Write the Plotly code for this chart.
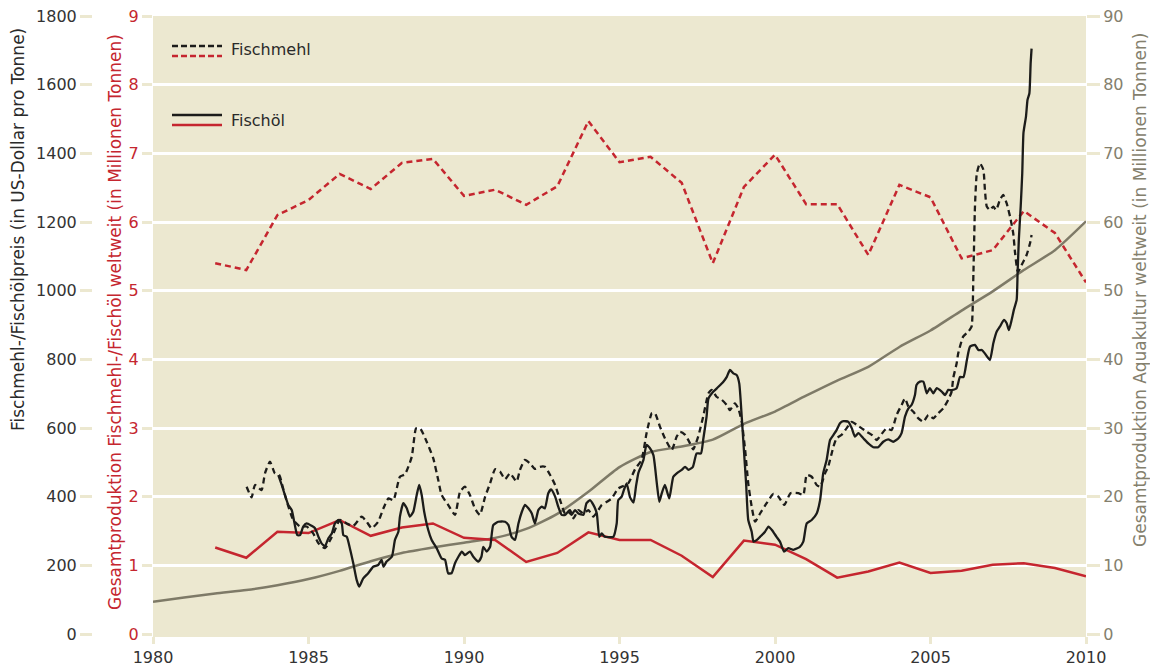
import plotly.graph_objects as go

# --- Aquaculture production worldwide (million tonnes), annual ---
aqua_years = list(range(1980, 2011))
aqua_mt = [4.7, 5.3, 5.9, 6.4, 7.1, 8.0, 9.2, 10.6, 11.8, 12.6, 13.3, 14.0, 15.3, 17.5,
           20.7, 24.3, 26.5, 27.3, 28.3, 30.6, 32.4, 34.7, 36.9, 38.9, 41.8, 44.2, 47.1,
           49.9, 53.0, 55.9, 60.1]

# --- Fishmeal / fish oil production worldwide (million tonnes), annual ---
prod_years = list(range(1982, 2011))
fishmeal_mt = [5.40, 5.30, 6.10, 6.32, 6.70, 6.48, 6.86, 6.92, 6.38, 6.47, 6.25, 6.52, 7.47,
               6.87, 6.95, 6.57, 5.40, 6.51, 6.98, 6.26, 6.26, 5.52, 6.54, 6.36, 5.47, 5.59,
               6.16, 5.84, 5.12]
fishoil_mt = [1.26, 1.11, 1.49, 1.47, 1.66, 1.43, 1.55, 1.61, 1.40, 1.37, 1.05, 1.18, 1.48,
              1.37, 1.37, 1.14, 0.83, 1.36, 1.30, 1.09, 0.82, 0.91, 1.04, 0.89, 0.92, 1.01,
              1.03, 0.96, 0.84]

# --- Fishmeal price (USD per tonne) ---
fishmeal_t = [1983.01, 1983.17, 1983.28, 1983.49, 1983.60, 1983.76, 1983.92, 1984.06, 1984.17,
              1984.32, 1984.51, 1984.73, 1984.94, 1985.15, 1985.32, 1985.53, 1985.75, 1985.85,
              1986.01, 1986.23, 1986.44, 1986.71, 1986.87, 1987.03, 1987.24, 1987.41, 1987.57,
              1987.73, 1987.94, 1988.10, 1988.32, 1988.46, 1988.59, 1988.80, 1989.01, 1989.17,
              1989.28, 1989.49, 1989.71, 1989.87, 1990.03, 1990.19, 1990.35, 1990.51, 1990.68,
              1990.84, 1991.00, 1991.16, 1991.32, 1991.48, 1991.69, 1991.80, 1991.96, 1992.12,
              1992.28, 1992.44, 1992.60, 1992.77, 1992.93, 1993.09, 1993.25, 1993.41, 1993.52,
              1993.68, 1993.84, 1994.00, 1994.16, 1994.32, 1994.43, 1994.59, 1994.75, 1994.96,
              1995.12, 1995.29, 1995.50, 1995.71, 1995.87, 1996.04, 1996.14, 1996.30, 1996.46,
              1996.68, 1996.84, 1996.95, 1997.11, 1997.27, 1997.37, 1997.53, 1997.69, 1997.86,
              1997.96, 1998.12, 1998.29, 1998.45, 1998.55, 1998.71, 1998.82, 1998.93, 1999.04,
              1999.14, 1999.25, 1999.36, 1999.52, 1999.73, 1999.95, 2000.11, 2000.30, 2000.50,
              2000.75, 2000.91, 2001.02, 2001.18, 2001.34, 2001.45, 2001.61, 2001.71, 2001.88,
              2001.98, 2002.14, 2002.30, 2002.47, 2002.63, 2002.79, 2002.95, 2003.11, 2003.27,
              2003.43, 2003.59, 2003.75, 2003.91, 2004.07, 2004.18, 2004.29, 2004.45, 2004.61,
              2004.77, 2004.93, 2005.09, 2005.25, 2005.41, 2005.57, 2005.68, 2005.73, 2005.84,
              2005.89, 2006.05, 2006.22, 2006.32, 2006.38, 2006.43, 2006.49, 2006.59, 2006.70,
              2006.75, 2006.81, 2006.91, 2007.02, 2007.11, 2007.23, 2007.34, 2007.45, 2007.56,
              2007.66, 2007.72, 2007.79, 2007.82, 2007.93, 2008.09, 2008.20, 2008.25]
fishmeal_usd = [429, 398, 434, 419, 468, 502, 468, 463, 429,
                381, 332, 313, 313, 293, 264, 250, 283, 303,
                332, 322, 315, 342, 327, 308, 327, 366, 395,
                390, 458, 465, 516, 599, 599, 560, 512, 449,
                405, 376, 347, 414, 429, 405, 366, 347, 400,
                439, 480, 473, 451, 468, 444, 478, 507, 497,
                481, 487, 487, 463, 434, 390, 351, 361, 337,
                361, 351, 361, 342, 361, 376, 385, 395, 424,
                431, 440, 480, 507, 585, 643, 643, 604, 570,
                536, 575, 589, 580, 555, 538, 575, 633, 701,
                711, 691, 682, 667, 652, 672, 657, 618, 536,
                439, 371, 327, 351, 381, 408, 400, 376, 410,
                410, 405, 463, 458, 434, 429, 468, 487, 546,
                570, 580, 599, 618, 609, 599, 589, 580, 565,
                583, 599, 594, 638, 667, 686, 662, 647, 628,
                618, 638, 628, 643, 657, 682, 706, 745, 788,
                817, 866, 881, 895, 1051, 1245, 1342, 1371, 1352,
                1293, 1245, 1235, 1245, 1235, 1264, 1279, 1254, 1215,
                1167, 1109, 1060, 1055, 1075, 1104, 1138, 1162]

# --- Fish oil price (USD per tonne) ---
fishoil_t = [1984.03, 1984.14, 1984.24, 1984.35, 1984.46, 1984.57, 1984.64, 1984.73, 1984.83,
             1984.94, 1985.10, 1985.21, 1985.32, 1985.42, 1985.53, 1985.64, 1985.75, 1985.85,
             1985.96, 1986.07, 1986.12, 1986.23, 1986.33, 1986.44, 1986.55, 1986.63, 1986.76,
             1986.92, 1987.08, 1987.24, 1987.35, 1987.41, 1987.51, 1987.68, 1987.78, 1987.89,
             1987.94, 1988.05, 1988.16, 1988.26, 1988.37, 1988.48, 1988.56, 1988.64, 1988.72,
             1988.85, 1988.96, 1989.12, 1989.28, 1989.39, 1989.49, 1989.60, 1989.71, 1989.82,
             1989.93, 1990.03, 1990.19, 1990.30, 1990.46, 1990.56, 1990.62, 1990.73, 1990.84,
             1990.94, 1991.10, 1991.32, 1991.43, 1991.53, 1991.64, 1991.75, 1991.86, 1991.96,
             1992.07, 1992.18, 1992.28, 1992.39, 1992.50, 1992.60, 1992.71, 1992.80, 1992.93,
             1993.03, 1993.14, 1993.25, 1993.35, 1993.46, 1993.57, 1993.68, 1993.84, 1993.94,
             1994.05, 1994.16, 1994.27, 1994.35, 1994.43, 1994.53, 1994.69, 1994.80, 1994.91,
             1994.96, 1995.07, 1995.14, 1995.23, 1995.34, 1995.45, 1995.53, 1995.61, 1995.70,
             1995.77, 1995.87, 1995.98, 1996.09, 1996.20, 1996.28, 1996.36, 1996.46, 1996.60,
             1996.73, 1996.84, 1997.00, 1997.11, 1997.22, 1997.36, 1997.48, 1997.62, 1997.69,
             1997.80, 1997.86, 1998.02, 1998.18, 1998.34, 1998.45, 1998.55, 1998.66, 1998.77,
             1998.85, 1998.93, 1999.00, 1999.07, 1999.14, 1999.25, 1999.31, 1999.42, 1999.52,
             1999.68, 1999.79, 1999.90, 2000.05, 2000.16, 2000.29, 2000.43, 2000.59, 2000.80,
             2000.91, 2001.02, 2001.18, 2001.34, 2001.45, 2001.55, 2001.66, 2001.77, 2001.88,
             2001.98, 2002.09, 2002.20, 2002.36, 2002.47, 2002.57, 2002.68, 2002.84, 2003.00,
             2003.16, 2003.32, 2003.48, 2003.64, 2003.80, 2003.97, 2004.07, 2004.18, 2004.29,
             2004.39, 2004.50, 2004.55, 2004.66, 2004.77, 2004.88, 2004.98, 2005.09, 2005.20,
             2005.36, 2005.47, 2005.57, 2005.68, 2005.84, 2005.95, 2006.06, 2006.17, 2006.27,
             2006.43, 2006.54, 2006.65, 2006.75, 2006.91, 2007.02, 2007.13, 2007.23, 2007.36,
             2007.45, 2007.52, 2007.61, 2007.68, 2007.77, 2007.80, 2007.84, 2007.90, 2007.95,
             2007.99, 2008.07, 2008.12, 2008.18, 2008.22, 2008.25]
fishoil_usd = [463, 434, 405, 376, 361, 313, 288, 288, 313,
               322, 315, 308, 283, 264, 256, 279, 293, 322,
               332, 322, 288, 283, 250, 206, 157, 138, 162,
               177, 196, 201, 216, 196, 211, 225, 274, 298,
               342, 381, 366, 342, 356, 405, 434, 405, 356,
               303, 274, 250, 220, 216, 177, 177, 206, 225,
               240, 230, 240, 225, 211, 225, 254, 240, 254,
               317, 327, 327, 317, 283, 274, 322, 356, 376,
               366, 351, 322, 361, 371, 366, 410, 421, 400,
               371, 347, 347, 356, 347, 361, 351, 347, 381,
               390, 376, 351, 283, 293, 283, 282, 283, 322,
               390, 400, 419, 439, 398, 383, 430, 470, 490,
               507, 551, 541, 521, 439, 385, 410, 434, 395,
               458, 468, 478, 487, 478, 487, 526, 526, 565,
               633, 686, 706, 720, 735, 749, 769, 759, 754,
               730, 633, 536, 439, 332, 298, 269, 274, 283,
               298, 313, 303, 283, 269, 240, 250, 245, 254,
               269, 322, 332, 351, 390, 468, 507, 565, 580,
               594, 614, 620, 618, 599, 575, 585, 570, 555,
               544, 544, 560, 567, 560, 570, 585, 633, 657,
               667, 696, 725, 735, 735, 701, 716, 701, 716,
               706, 696, 711, 710, 716, 749, 748, 798, 837,
               842, 827, 827, 817, 798, 847, 881, 895, 915,
               905, 885, 915, 944, 973, 1051, 1148, 1245, 1342,
               1460, 1507, 1556, 1575, 1662, 1705]

W, H = 1150, 667
BEIGE = "#ece8d0"
RED = "#c5262f"
BLACK = "#1c1c1a"
GREY = "#7e7a67"
FONT = "DejaVu Sans"

fig = go.Figure()

# Aquaculture (right axis)
fig.add_trace(go.Scatter(x=aqua_years, y=aqua_mt, mode="lines", yaxis="y",
                         line=dict(color=GREY, width=2.5, shape="spline", smoothing=0.6),
                         showlegend=False))
# Production of fishmeal / fish oil (red axis)
fig.add_trace(go.Scatter(x=prod_years, y=fishmeal_mt, mode="lines", yaxis="y2",
                         line=dict(color=RED, width=2.5, dash="6px,4px"), showlegend=False))
fig.add_trace(go.Scatter(x=prod_years, y=fishoil_mt, mode="lines", yaxis="y2",
                         line=dict(color=RED, width=2.5), showlegend=False))
# Prices (black axis)
fig.add_trace(go.Scatter(x=fishmeal_t, y=fishmeal_usd, mode="lines", yaxis="y3",
                         line=dict(color=BLACK, width=2.3, dash="6px,4px",
                                   shape="spline", smoothing=0.5), showlegend=False))
fig.add_trace(go.Scatter(x=fishoil_t, y=fishoil_usd, mode="lines", yaxis="y3",
                         line=dict(color=BLACK, width=2.3, shape="spline", smoothing=0.5),
                         showlegend=False))

x0, x1 = 153 / W, 1086 / W
y0, y1 = 1 - 634 / H, 1 - 16 / H

tickfont = dict(family=FONT, size=16)

fig.update_layout(
    width=W, height=H,
    margin=dict(l=0, r=0, t=0, b=0, autoexpand=False),
    paper_bgcolor="white",
    plot_bgcolor=BEIGE,
    xaxis=dict(domain=[x0, x1], range=[1980, 2010], tickvals=list(range(1980, 2011, 5)),
               showgrid=False, zeroline=False, showline=True, linecolor=BEIGE, linewidth=3,
               ticks="outside", ticklen=7, tickwidth=2.5, tickcolor=BEIGE, automargin=False,
               tickfont=dict(tickfont, color="#333333")),
    yaxis=dict(domain=[y0, y1], range=[0, 90], dtick=10, side="right", anchor="x",
               showgrid=True, gridcolor="white", gridwidth=3, zeroline=False, automargin=False,
               ticks="outside", ticklen=13, tickwidth=2.5, tickcolor=BEIGE,
               tickfont=dict(tickfont, color="#84806d")),
    yaxis2=dict(range=[0, 9], dtick=1, side="left", anchor="x", overlaying="y",
                showgrid=False, zeroline=False, automargin=False,
                ticks="outside", ticklen=10, tickwidth=2.5, tickcolor=BEIGE,
                tickfont=dict(tickfont, color=RED)),
    yaxis3=dict(range=[0, 1800], dtick=200, side="left", anchor="free", position=92 / W,
                overlaying="y", showgrid=False, zeroline=False, automargin=False,
                ticks="outside", ticklen=12, tickwidth=2.5, tickcolor=BEIGE,
                tickfont=dict(tickfont, color="#333333")),
    showlegend=False,
)

# Axis titles
def vtitle(text, px, py, color):
    fig.add_annotation(text=text, x=px / W, y=1 - py / H, xref="paper", yref="paper",
                       textangle=-90, showarrow=False, xanchor="center", yanchor="middle",
                       font=dict(family=FONT, size=17, color=color))

vtitle("Fischmehl-/Fischölpreis (in US-Dollar pro Tonne)", 18, 230, "#2a2a2a")
vtitle("Gesamtproduktion Fischmehl-/Fischöl weltweit (in Millionen Tonnen)", 115, 322, RED)
vtitle("Gesamtproduktion Aquakultur weltweit (in Millionen Tonnen)", 1140, 290, "#84806d")

# Legend: paired line samples with labels
def legend_line(py, color, dash):
    fig.add_shape(type="line", xref="paper", yref="paper",
                  x0=172 / W, x1=222 / W, y0=1 - py / H, y1=1 - py / H,
                  line=dict(color=color, width=2.5, dash=dash))

legend_line(46, BLACK, "6px,3px")
legend_line(56, RED, "6px,3px")
legend_line(115, BLACK, "solid")
legend_line(125, RED, "solid")
for label, py in [("Fischmehl", 50), ("Fischöl", 120)]:
    fig.add_annotation(text=label, x=229 / W, y=1 - py / H, xref="paper", yref="paper",
                       showarrow=False, xanchor="left", yanchor="middle",
                       font=dict(family=FONT, size=16, color="#2a2a2a"))

fig.write_html("out.html")
